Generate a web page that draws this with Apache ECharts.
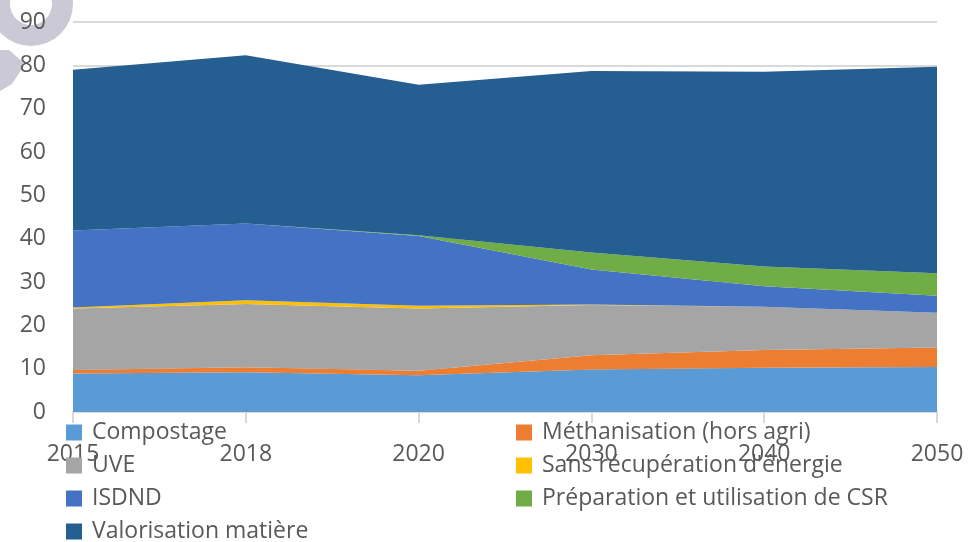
<!DOCTYPE html>
<html>
<head>
<meta charset="utf-8">
<script src="https://cdn.jsdelivr.net/npm/echarts@6/dist/echarts.min.js"></script>
<style>
html,body{margin:0;padding:0;background:#fff;}
#chart{width:969px;height:542px;}
</style>
</head>
<body>
<div id="chart"></div>
<script>
const years = ['2015', '2018', '2020', '2030', '2040', '2050'];
const compostage = [8.9, 9.2, 8.5, 9.8, 10.2, 10.4];
const methanisation = [0.8, 1.1, 1.0, 3.3, 4.1, 4.5];
const uve = [14.2, 14.6, 14.4, 11.6, 10.0, 8.0];
const sansRecup = [0.2, 0.9, 0.6, 0.1, 0, 0];
const isdnd = [17.8, 17.7, 16.1, 8.1, 4.7, 3.9];
const csr = [0, 0, 0.2, 3.9, 4.6, 5.2];
const valorisation = [37.1, 38.8, 34.7, 41.9, 44.9, 47.7];
const yTicks = [0, 10, 20, 30, 40, 50, 60, 70, 80, 90];

const names = ['Compostage', 'Méthanisation (hors agri)', 'UVE', "Sans récupération d'énergie", 'ISDND', 'Préparation et utilisation de CSR', 'Valorisation matière'];
const colors = ['#5B9BD5', '#ED7D31', '#A5A5A5', '#FFC000', '#4472C4', '#70AD47', '#255E91'];
const values = [compostage, methanisation, uve, sansRecup, isdnd, csr, valorisation];

const font = '"Open Sans", sans-serif';
const txt = '#595959';

// legend layout: item i -> column (i % 2), row floor(i / 2)
const legends = names.map((n, i) => ({
  data: [n],
  left: (i % 2 === 0) ? 66 : 516,
  top: 421 + Math.floor(i / 2) * 33,
  padding: 0,
  itemWidth: 16,
  itemHeight: 16,
  icon: 'rect',
  textStyle: {color: txt, fontSize: 23, fontFamily: font, padding: [0, 0, 0, 5]}
}));

const chart = echarts.init(document.getElementById('chart'), null, {renderer: 'canvas'});
chart.setOption({
  animation: false,
  color: colors,
  graphic: [
    {type: 'ring', shape: {cx: 31, cy: 4, r: 42, r0: 21}, style: {fill: '#CCC9D6'}, z: 0},
    {type: 'polygon', shape: {points: [[0, 50], [9, 50], [25, 64], [12, 84], [0, 91]]}, style: {fill: '#CCC9D6'}, z: 0}
  ],
  grid: {left: 73, right: 32, top: 22, bottom: 130},
  legend: legends,
  xAxis: {
    type: 'category',
    data: years,
    boundaryGap: false,
    axisLine: {lineStyle: {color: '#D9D9D9', width: 2}},
    axisTick: {show: true, length: 11, alignWithLabel: true, lineStyle: {color: '#D9D9D9', width: 2}},
    axisLabel: {color: txt, fontSize: 23, fontFamily: font, margin: 31}
  },
  yAxis: {
    type: 'value',
    min: yTicks[0],
    max: yTicks[yTicks.length - 1],
    interval: 10,
    axisLine: {show: false},
    axisTick: {show: false},
    splitLine: {lineStyle: {color: '#D9D9D9', width: 2}},
    axisLabel: {color: txt, fontSize: 23, fontFamily: font, margin: 27}
  },
  series: values.map((v, i) => ({
    name: names[i],
    type: 'line',
    stack: 'total',
    data: v,
    symbol: 'none',
    lineStyle: {width: 0},
    areaStyle: {color: colors[i], opacity: 1},
    itemStyle: {color: colors[i]}
  }))
});
</script>
</body>
</html>
